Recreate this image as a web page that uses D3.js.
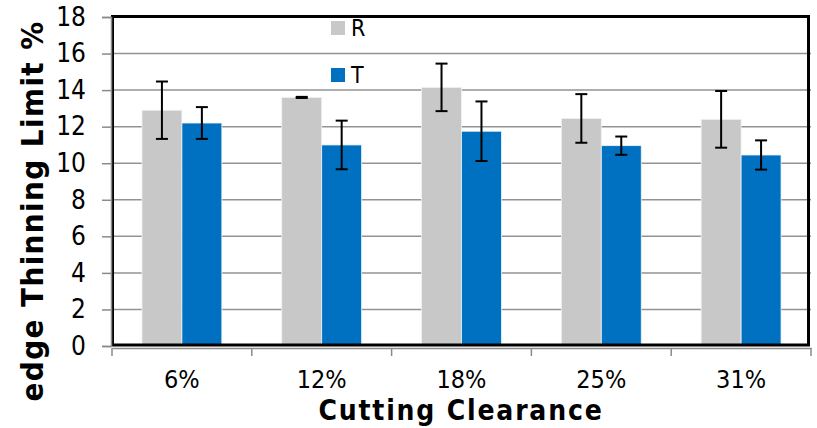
<!DOCTYPE html>
<html>
<head>
<meta charset="utf-8">
<script src="https://cdn.jsdelivr.net/npm/d3@7"></script>
<style>
  html, body { margin: 0; padding: 0; background: #fff; }
  svg { display: block; }
  text { font-family: "DejaVu Sans Condensed", "DejaVu Sans", sans-serif; }
</style>
</head>
<body>
<svg id="chart" width="817" height="428"></svg>
<script>
// Cutting clearance categories and measured limits (mean ± error)
const categories = ["6%", "12%", "18%", "25%", "31%"];
const seriesNames = ["R", "T"];
const rValues = [12.9, 13.6, 14.15, 12.45, 12.4];
const rErrors = [1.57, 0.03, 1.3, 1.33, 1.55];
const tValues = [12.2, 11.0, 11.75, 10.96, 10.45];
const tErrors = [0.87, 1.33, 1.63, 0.5, 0.8];
const yTicks = [0, 2, 4, 6, 8, 10, 12, 14, 16, 18];
const seriesColors = ["#c8c8c8", "#0070c0"];

const svg = d3.select("#chart");
const margin = { left: 112, right: 6, top: 17, bottom: 82 };
const W = 817, H = 428;
const x0 = margin.left, x1 = W - margin.right;
const y0 = H - margin.bottom, y1 = margin.top;

const x = d3.scaleBand().domain(categories).range([x0, x1]).paddingInner(0).paddingOuter(0);
const xs = d3.scaleBand().domain(seriesNames).range([0, x.bandwidth()]).paddingInner(0).paddingOuter(0.75);
const y = d3.scaleLinear().domain([0, 18]).range([y0, y1]);

// horizontal gridlines
svg.append("g").selectAll("line").data(yTicks.filter(d => d > 0 && d < 18)).join("line")
  .attr("x1", x0).attr("x2", x1)
  .attr("y1", d => y(d)).attr("y2", d => y(d))
  .attr("stroke", "#939393").attr("stroke-width", 1.5);

// bars
const rows = categories.map((c, i) => ({
  cat: c,
  items: [
    { s: "R", v: rValues[i], e: rErrors[i], color: seriesColors[0] },
    { s: "T", v: tValues[i], e: tErrors[i], color: seriesColors[1] }
  ]
}));

const groups = svg.append("g").selectAll("g").data(rows).join("g")
  .attr("transform", d => `translate(${x(d.cat)},0)`);

groups.selectAll("rect").data(d => d.items).join("rect")
  .attr("x", d => xs(d.s)).attr("width", xs.bandwidth())
  .attr("y", d => y(d.v)).attr("height", d => y(0) - y(d.v))
  .attr("fill", d => d.color)
  .attr("stroke", "#eef3f8").attr("stroke-width", 0.8);

// error bars
const cap = 6;
groups.selectAll("g.err").data(d => d.items).join("g").attr("class", "err")
  .each(function (d) {
    const g = d3.select(this);
    const cx = xs(d.s) + xs.bandwidth() / 2;
    const top = y(d.v + d.e), bot = y(d.v - d.e);
    g.append("line").attr("x1", cx).attr("x2", cx).attr("y1", top).attr("y2", bot)
      .attr("stroke", "#000").attr("stroke-width", 2);
    [top, bot].forEach(yy => g.append("line")
      .attr("x1", cx - cap).attr("x2", cx + cap).attr("y1", yy).attr("y2", yy)
      .attr("stroke", "#000").attr("stroke-width", 2));
  });

// plot frame
svg.append("rect")
  .attr("x", x0 + 0.5).attr("y", y1 - 0.5)
  .attr("width", x1 - x0 - 3).attr("height", y0 - y1 - 0.5)
  .attr("fill", "none").attr("stroke", "#000").attr("stroke-width", 3);

// y axis
const yAxis = d3.axisLeft(y).tickValues(yTicks).tickSize(9).tickPadding(16).tickFormat(d3.format("d"));
const yg = svg.append("g").attr("transform", `translate(${x0 - 1},0)`).call(yAxis);
yg.select(".domain").attr("stroke", "#8a8a8a").attr("stroke-width", 1.5);
yg.selectAll(".tick line").attr("stroke", "#8a8a8a").attr("stroke-width", 1.5);
yg.selectAll(".tick text").attr("font-size", 26).attr("fill", "#000")
  .attr("font-family", "'DejaVu Sans Condensed', 'DejaVu Sans', sans-serif");

// x axis
const xAxis = d3.axisBottom(x).tickSize(0).tickPadding(22);
const xg = svg.append("g").attr("transform", `translate(0,${y0 + 2})`).call(xAxis);
xg.select(".domain").attr("stroke", "#8a8a8a").attr("stroke-width", 1.5);
xg.selectAll(".tick text").attr("font-size", 25).attr("fill", "#000")
  .attr("font-family", "'DejaVu Sans Condensed', 'DejaVu Sans', sans-serif");
// category boundary ticks
const bounds = categories.map(c => x(c)).concat([x1]);
xg.append("g").selectAll("line").data(bounds).join("line")
  .attr("x1", d => d).attr("x2", d => d).attr("y1", 0).attr("y2", 8)
  .attr("stroke", "#8a8a8a").attr("stroke-width", 1.5);

// axis titles
svg.append("text")
  .attr("x", 461).attr("y", 420)
  .attr("text-anchor", "middle").attr("font-size", 28).attr("font-weight", "bold")
  .attr("letter-spacing", 1.8)
  .attr("font-family", "'DejaVu Sans', sans-serif")
  .text("Cutting Clearance");

svg.append("text")
  .attr("transform", `translate(43,${211}) rotate(-90)`)
  .attr("text-anchor", "middle").attr("font-size", 31).attr("font-weight", "bold")
  .attr("letter-spacing", 1.4)
  .attr("font-family", "'DejaVu Sans', sans-serif")
  .text("edge Thinning Limit %");

// legend
const legend = svg.append("g").attr("transform", "translate(331,21)");
const li = legend.selectAll("g").data(seriesNames).join("g")
  .attr("transform", (d, i) => `translate(0,${i * 47})`);
li.append("rect").attr("width", 14).attr("height", 14)
  .attr("fill", (d, i) => seriesColors[i]);
li.append("text").attr("x", 20).attr("y", 15).attr("font-size", 23)
  .text(d => d);
</script>
</body>
</html>
